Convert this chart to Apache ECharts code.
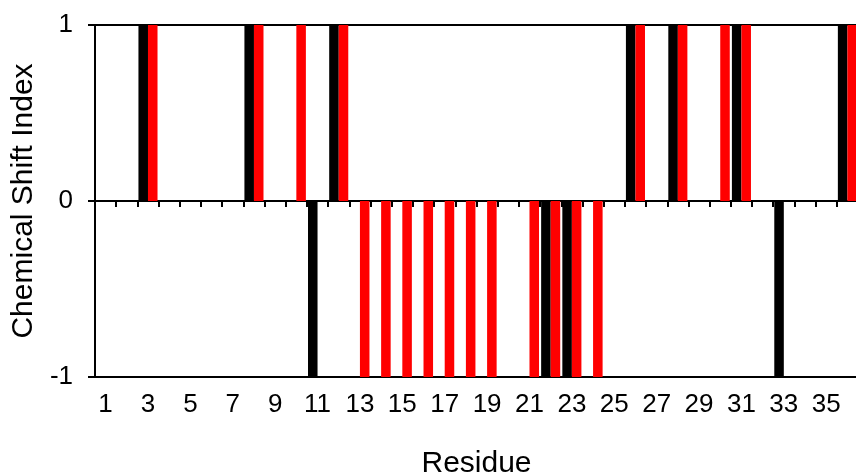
<!DOCTYPE html>
<html>
<head>
    <meta charset="utf-8">
    <title>Chemical Shift Index</title>
    <script src="https://cdn.jsdelivr.net/npm/echarts@6/dist/echarts.min.js"></script>
    <style>
        html, body { margin: 0; padding: 0; background: #fff; }
        #main { width: 856px; height: 473px; }
    </style>
</head>
<body>
<div id="main"></div>
<script type="text/javascript">
    // residue numbers 1..36
    var residues = ['1','2','3','4','5','6','7','8','9','10','11','12','13','14','15','16','17','18',
                    '19','20','21','22','23','24','25','26','27','28','29','30','31','32','33','34','35','36'];

    // chemical shift index per residue (black / red sets)
    var blackCSI = [0,0,1,0,0,0,0,1,0,0,-1,1,0,0,0,0,0,0,
                    0,0,0,-1,-1,0,0,1,0,1,0,0,1,0,-1,0,0,1];
    var redCSI   = [0,0,1,0,0,0,0,1,0,1,0,1,-1,-1,-1,-1,-1,-1,
                    -1,0,-1,-1,-1,-1,0,1,0,1,0,1,1,0,0,0,0,1];

    var yTicks = [-1, 0, 1];

    var font = 'Liberation Sans';

    var myChart = echarts.init(document.getElementById('main'));

    var option = {
        backgroundColor: '#fff',
        animation: false,
        grid: {
            left: 95,
            right: -2,
            top: 25,
            bottom: 96,
            outerBoundsMode: 'none',
            containLabel: false,
            show: true,
            borderColor: '#000',
            borderWidth: 2,
            backgroundColor: '#fff'
        },
        xAxis: [
            {
                // line + ticks on zero
                type: 'category',
                data: residues,
                position: 'top',
                axisLine: { onZero: true, lineStyle: { color: '#000', width: 2 } },
                axisTick: { show: true, inside: true, interval: 0, length: 6, lineStyle: { color: '#000', width: 2 } },
                axisLabel: { show: false },
                splitLine: { show: false }
            },
            {
                // labels at the bottom
                type: 'category',
                data: residues,
                position: 'bottom',
                axisLine: { show: false, onZero: false },
                axisTick: { show: false },
                axisLabel: {
                    interval: 1,
                    margin: 15,
                    color: '#000',
                    fontFamily: font,
                    fontSize: 26
                },
                name: 'Residue',
                nameLocation: 'middle',
                nameGap: 72,
                nameTextStyle: { color: '#000', fontFamily: font, fontSize: 30 },
                splitLine: { show: false }
            }
        ],
        yAxis: {
            type: 'value',
            min: yTicks[0],
            max: yTicks[yTicks.length - 1],
            interval: 1,
            axisLine: { show: true, lineStyle: { color: '#000', width: 2 } },
            axisTick: { show: true, length: 7, lineStyle: { color: '#000', width: 2 } },
            axisLabel: {
                margin: 22,
                color: '#000',
                fontFamily: font,
                fontSize: 26
            },
            splitLine: { show: false },
            name: 'Chemical Shift Index',
            nameLocation: 'middle',
            nameGap: 56,
            nameTextStyle: { color: '#000', fontFamily: font, fontSize: 30 }
        },
        series: [
            {
                name: 'black',
                type: 'bar',
                xAxisIndex: 0,
                data: blackCSI,
                barGap: 0,
                barCategoryGap: '10%',
                itemStyle: { color: '#000' }
            },
            {
                name: 'red',
                type: 'bar',
                xAxisIndex: 0,
                data: redCSI,
                barGap: 0,
                barCategoryGap: '10%',
                itemStyle: { color: '#ff0000' }
            }
        ]
    };

    myChart.setOption(option);
</script>
</body>
</html>
